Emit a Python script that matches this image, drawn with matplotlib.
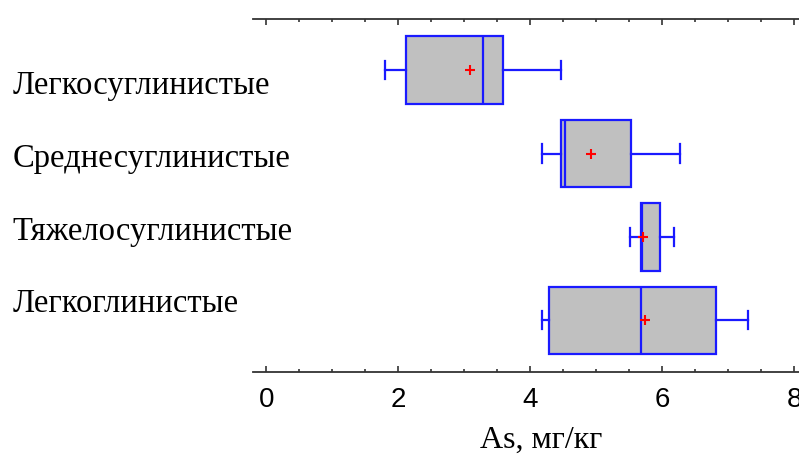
import matplotlib
matplotlib.use('Agg')
import matplotlib.pyplot as plt
from matplotlib.ticker import MultipleLocator

# ── Data ─────────────────────────────────────────────────────────────────────
categories = ['Легкосуглинистые', 'Среднесуглинистые',
              'Тяжелосуглинистые', 'Легкоглинистые']
whislo = [1.80, 4.18, 5.51, 4.18]
q1     = [2.11, 4.46, 5.68, 4.28]
med    = [3.28, 4.53, 5.69, 5.68]
q3     = [3.59, 5.53, 5.97, 6.81]
whishi = [4.47, 6.26, 6.17, 7.30]
means  = [3.08, 4.92, 5.71, 5.73]
xticks = [0, 2, 4, 6, 8]
xlabel = 'As, мг/кг'

W, H = 799, 454
fig = plt.figure(figsize=(W / 100, H / 100), dpi=100)
ax = fig.add_axes([253 / W, 1 - 372.3 / H, (W - 253) / W, (372.3 - 19) / H])

stats = []
for i in range(len(categories)):
    stats.append(dict(whislo=whislo[i], q1=q1[i], med=med[i], q3=q3[i],
                      whishi=whishi[i], mean=means[i], fliers=[]))

blue = '#1a1aff'
ax.bxp(stats, positions=range(1, len(categories) + 1), vert=False,
       widths=0.81, capwidths=0.22, showmeans=True, patch_artist=True,
       boxprops=dict(facecolor='#c0c0c0', edgecolor=blue, linewidth=1.6),
       medianprops=dict(color=blue, linewidth=1.6),
       whiskerprops=dict(color=blue, linewidth=1.6),
       capprops=dict(color=blue, linewidth=1.6),
       meanprops=dict(marker='+', markeredgecolor='#ff0000',
                      markersize=7.5, markeredgewidth=1.5))

ax.set_xlim(-0.2, (W - 266.5) / 66.0)
ax.set_ylim(4.624, 0.386)
ax.set_xticks(xticks)
ax.xaxis.set_minor_locator(MultipleLocator(0.5))
ax.set_yticks([])

for s in ['left', 'right']:
    ax.spines[s].set_visible(False)
for s in ['top', 'bottom']:
    ax.spines[s].set_color('#333333')
    ax.spines[s].set_linewidth(1.3)

ax.tick_params(axis='x', which='both', direction='in', top=True,
               color='#333333', width=1.2, labelsize=20, pad=10.5)
ax.tick_params(axis='x', which='major', length=4.5)
ax.tick_params(axis='x', which='minor', length=2.5)
for lab in ax.get_xticklabels():
    lab.set_family('Liberation Sans')

# category labels sit to the left, independent of box centres
label_y = [94, 167, 240, 312.5]
for name, y in zip(categories, label_y):
    fig.text(12.5 / W, 1 - y / H, name, family='Liberation Serif',
             fontsize=23.5, ha='left', va='baseline')

fig.text(541 / W, 1 - 448 / H, xlabel, family='Liberation Serif',
         fontsize=23, ha='center', va='baseline')

fig.savefig('out.png', dpi=100)
